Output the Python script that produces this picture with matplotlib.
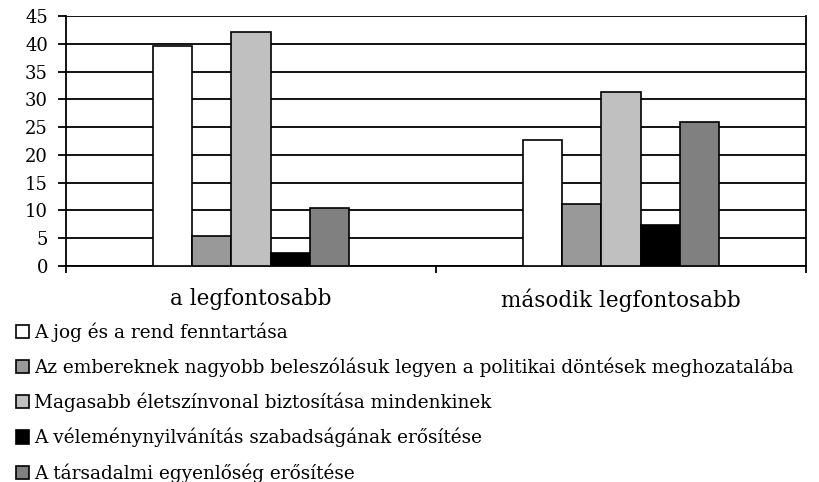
import numpy as np
import matplotlib.pyplot as plt

categories = ["a legfontosabb", "második legfontosabb"]
series = [
    "A jog és a rend fenntartása",
    "Az embereknek nagyobb beleszólásuk legyen a politikai döntések meghozatalába",
    "Magasabb életszínvonal biztosítása mindenkinek",
    "A véleménynyilvánítás szabadságának erősítése",
    "A társadalmi egyenlőség erősítése",
]
values = [
    [39.6, 22.7],
    [5.4, 11.2],
    [42.2, 31.4],
    [2.3, 7.3],
    [10.4, 25.9],
]
colors = ["#ffffff", "#999999", "#c0c0c0", "#000000", "#808080"]

plt.rcParams["font.family"] = "DejaVu Serif"

fig = plt.figure(figsize=(8.19, 4.82), dpi=100)
ax = fig.add_axes([66 / 819, 216 / 482, 740 / 819, 250 / 482])

x = np.arange(len(categories))
width = 0.106
bars = []
for i, (name, vals) in enumerate(zip(series, values)):
    b = ax.bar(x + (i - 2) * width, vals, width, color=colors[i],
               edgecolor="black", linewidth=1.2, label=name, zorder=3)
    bars.append(b)

ax.set_xlim(-0.5, 1.5)
ax.set_ylim(0, 45)
ax.set_yticks(range(0, 46, 5))
ax.yaxis.grid(True, color="black", linewidth=1.3, zorder=0)
ax.set_axisbelow(True)
ax.spines["top"].set_visible(False)
for s in ["left", "bottom", "right"]:
    ax.spines[s].set_linewidth(1.3)
ax.tick_params(axis="y", direction="out", length=6, width=1.3, labelsize=13, pad=7)
ax.set_xticks([-0.5, 0.5, 1.5])
ax.set_xticklabels([])
ax.tick_params(axis="x", direction="out", length=5, width=1.3)
for xi, c in zip(x, categories):
    ax.text(xi, -4.0, c, ha="center", va="top", fontsize=15.5)

fig.legend(handles=bars, labels=series, loc="upper left",
           bbox_to_anchor=(0.01, 1 - 315 / 482), frameon=False,
           fontsize=13.3, handlelength=0.72, handleheight=0.72,
           handletextpad=0.3, labelspacing=0.85, borderaxespad=0)

fig.savefig("out.png", dpi=100)
